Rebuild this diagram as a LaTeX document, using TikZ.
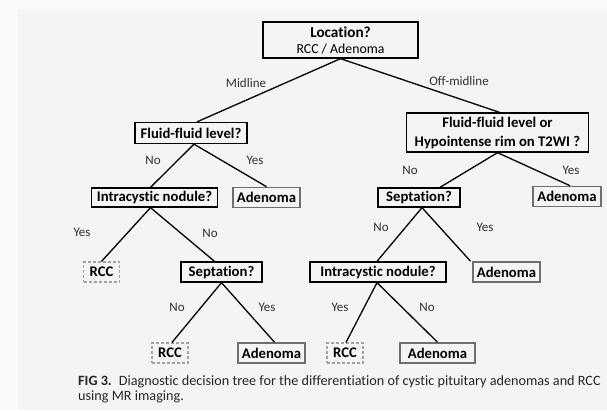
\documentclass[tikz,border=0pt]{standalone}
\usepackage{fontspec}
\setmainfont{Carlito}[Ligatures={NoCommon}]
\definecolor{pageouter}{HTML}{FAFAFA}
\definecolor{panel}{HTML}{F4F4F4}
\definecolor{leafgray}{HTML}{6E6E6E}
\definecolor{rccgray}{HTML}{A3A3A3}
\definecolor{labelgray}{HTML}{303030}
\begin{document}
\begin{tikzpicture}[x=1pt,y=-1pt,
  qbox/.style={draw=black,line width=1.3pt,inner sep=0pt,align=center,
    font=\fontsize{14.7}{19}\selectfont\bfseries},
  leafA/.style={draw=leafgray,line width=1.6pt,inner sep=0pt,minimum height=20pt,
    font=\fontsize{14.7}{17}\selectfont\bfseries},
  leafR/.style={draw=rccgray,line width=1.2pt,dash pattern=on 3pt off 2pt,inner sep=0pt,
    minimum height=20pt,minimum width=36pt,font=\fontsize{14.7}{17}\selectfont\bfseries},
  elabel/.style={text=labelgray,inner sep=0pt,font=\fontsize{13}{15}\selectfont},
  link/.style={draw=black,line width=1.3pt}]
\useasboundingbox (0,0) rectangle (607,410);
\fill[pageouter] (0,0) rectangle (607,410);
\fill[panel] (18,9) rectangle (607,410);

% question boxes
\node[qbox,minimum width=155pt,minimum height=36pt] (loc) at (340.5,40)
  {\fontsize{15.2}{17}\selectfont Location?\\[-3pt]{\mdseries\fontsize{13.8}{16}\selectfont RCC / Adenoma}};
\node[qbox,minimum width=112pt,minimum height=21pt] (ff1) at (191,133) {Fluid-fluid level?};
\node[qbox,minimum width=182pt,minimum height=39pt] (ff2) at (497.5,132.5)
  {Fluid-fluid level or\\Hypointense rim on T2WI ?};
\node[qbox,minimum width=126pt,minimum height=19pt] (ic1) at (154.5,197.5) {Intracystic nodule?};
\node[qbox,minimum width=82pt,minimum height=19pt] (sep2) at (419,197.5) {Septation?};
\node[qbox,minimum width=81pt,minimum height=20pt] (sep1) at (221.5,272) {Septation?};
\node[qbox,minimum width=136pt,minimum height=20pt] (ic2) at (378,272) {Intracystic nodule?};

% outcome boxes
\node[leafA,minimum width=67pt] (ad1) at (266.5,197.5) {Adenoma};
\node[leafA,minimum width=68pt] (ad2) at (567,196.5) {Adenoma};
\node[leafA,minimum width=67pt] (ad3) at (506.5,272) {Adenoma};
\node[leafA,minimum width=67pt] (ad4) at (271.5,353) {Adenoma};
\node[leafA,minimum width=75pt] (ad5) at (437.5,353) {Adenoma};
\node[leafR] (rcc1) at (101.5,272) {RCC};
\node[leafR] (rcc2) at (170,353) {RCC};
\node[leafR] (rcc3) at (345,353) {RCC};

% branches
\draw[link] (loc.south) -- ([xshift=6pt]ff1.north);
\draw[link] (loc.south) -- ([xshift=2pt]ff2.north);
\draw[link] ([xshift=3pt]ff1.south) -- ([xshift=-4pt]ic1.north);
\draw[link] ([xshift=3pt]ff1.south) -- (ad1.north);
\draw[link] (ff2.south) -- ([xshift=21pt]sep2.north);
\draw[link] (ff2.south) -- ([xshift=3pt]ad2.north);
\draw[link] ([xshift=-4pt]ic1.south) -- (rcc1.north);
\draw[link] ([xshift=-4pt]ic1.south) -- ([xshift=-7pt]sep1.north);
\draw[link] ([xshift=3pt]sep2.south) -- ([xshift=-1pt]ic2.north);
\draw[link] ([xshift=3pt]sep2.south) -- ([xshift=-36pt]ad3.north);
\draw[link] (sep1.south) -- ([xshift=2pt]rcc2.north);
\draw[link] (sep1.south) -- ([xshift=3pt]ad4.north);
\draw[link] ([xshift=-1pt]ic2.south) -- ([xshift=1pt]rcc3.north);
\draw[link] ([xshift=-1pt]ic2.south) -- (ad5.north);

% branch labels
\node[elabel] (lmid) at (246,83) {Midline};
\node[elabel] (loff) at (459,81.5) {Off-midline};
\node[elabel] (l1) at (153,160) {No};
\node[elabel] (l2) at (255,160) {Yes};
\node[elabel] (l3) at (410,170) {No};
\node[elabel] (l4) at (571,170) {Yes};
\node[elabel] (l5) at (82,232) {Yes};
\node[elabel] (l6) at (210,233) {No};
\node[elabel] (l7) at (381,227) {No};
\node[elabel] (l8) at (485,227) {Yes};
\node[elabel] (l9) at (177,307) {No};
\node[elabel] (l10) at (267,307) {Yes};
\node[elabel] (l11) at (340,307) {Yes};
\node[elabel] (l12) at (427,307) {No};

% caption (two lines; base anchor sits on the last line)
\node[anchor=base west,inner sep=0pt,font=\fontsize{14.2}{15.5}\selectfont,text=black!85,align=left] (cap) at (78,400.5)
  {\textbf{FIG 3.}\hspace{0.5em}Diagnostic decision tree for the differentiation of cystic pituitary adenomas and RCC\\using MR imaging.};
\end{tikzpicture}
\end{document}
